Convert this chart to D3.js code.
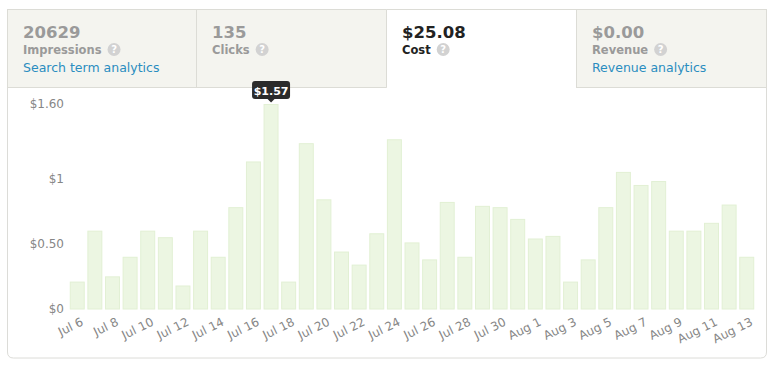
<!DOCTYPE html>
<html><head><meta charset="utf-8">
<script src="https://cdn.jsdelivr.net/npm/d3@7/dist/d3.min.js"></script>
<style>
html,body{margin:0;padding:0;background:#fff;}
svg{display:block;font-family:"DejaVu Sans",Verdana,sans-serif;}
</style></head>
<body><svg id="c" width="780" height="367"></svg>
<script>
const days = ["Jul 6","Jul 7","Jul 8","Jul 9","Jul 10","Jul 11","Jul 12","Jul 13","Jul 14","Jul 15","Jul 16","Jul 17","Jul 18","Jul 19","Jul 20","Jul 21","Jul 22","Jul 23","Jul 24","Jul 25","Jul 26","Jul 27","Jul 28","Jul 29","Jul 30","Jul 31","Aug 1","Aug 2","Aug 3","Aug 4","Aug 5","Aug 6","Aug 7","Aug 8","Aug 9","Aug 10","Aug 11","Aug 12","Aug 13"];
const cost = [0.21,0.60,0.25,0.40,0.60,0.55,0.18,0.60,0.40,0.78,1.13,1.57,0.21,1.27,0.84,0.44,0.34,0.58,1.30,0.51,0.38,0.82,0.40,0.79,0.78,0.69,0.54,0.56,0.21,0.38,0.78,1.05,0.95,0.98,0.60,0.60,0.66,0.80,0.40];
const xTickLabels = ["Jul 6","Jul 8","Jul 10","Jul 12","Jul 14","Jul 16","Jul 18","Jul 20","Jul 22","Jul 24","Jul 26","Jul 28","Jul 30","Aug 1","Aug 3","Aug 5","Aug 7","Aug 9","Aug 11","Aug 13"];
const yTickValues = [0, 0.5, 1, 1.57];
const yTickLabels = ["$0","$0.50","$1","$1.60"];
const tabValues = ["20629","135","$25.08","$0.00"];
const tabNames = ["Impressions","Clicks","Cost","Revenue"];
const tabLinks = ["Search term analytics","","","Revenue analytics"];
const activeTab = 2;
const tooltipIndex = 11;
const tooltipText = "$1.57";

const FONT='"DejaVu Sans",Verdana,sans-serif';
const svg = d3.select("#c");
const L=7.5, R=766.5, T=9.5, B=358, TB=87.5, rad=6;
const tabEdges=[7.5,196.5,386.5,576.5,766.5];

svg.append("path")
  .attr("d",`M${L},${T}V${B-rad}Q${L},${B} ${L+rad},${B}H${R-rad}Q${R},${B} ${R},${B-rad}V${T}`)
  .attr("fill","#fff").attr("stroke","#dcdcd8").attr("stroke-width",1);

tabValues.forEach((v,i)=>{
  const x0=tabEdges[i], x1=tabEdges[i+1];
  const g=svg.append("g");
  const active=i===activeTab;
  if(!active){
    g.append("rect").attr("x",x0).attr("y",T).attr("width",x1-x0).attr("height",TB-T)
      .attr("fill","#f4f4ef").attr("stroke","#dcdcd6");
  } else {
    g.append("path").attr("d",`M${x0},${TB}V${T}H${x1}V${TB}`).attr("fill","#fff").attr("stroke","#dcdcd6");
  }
  const tx=x0+15.5;
  const col=active?"#222":"#9a9a9a";
  g.append("text").attr("x",tx).attr("y",38).attr("font-size",16.5).attr("font-weight","bold").attr("fill",col).text(v);
  const nm=g.append("text").attr("x",tx).attr("y",54).attr("font-size",11.5).attr("font-weight","bold").attr("fill",col).text(tabNames[i]);
  const w=nm.node().getComputedTextLength();
  const cx=tx+w+12.5, cy=49.5;
  g.append("circle").attr("cx",cx).attr("cy",cy).attr("r",6.5).attr("fill","#d2d2d2");
  g.append("text").attr("x",cx).attr("y",cy+3.5).attr("text-anchor","middle").attr("font-size",10).attr("font-weight","bold").attr("fill","#fff").text("?");
  if(tabLinks[i]) g.append("text").attr("x",tx).attr("y",72).attr("font-size",12.5).attr("fill","#2a8dc0").text(tabLinks[i]);
});

const x=d3.scaleBand().domain(days).range([68,756]).paddingInner(0.15).paddingOuter(0.1);
const y=d3.scaleLinear().domain([0,1.57]).range([309,104]);

const yAxis=d3.axisLeft(y).tickValues(yTickValues).tickSize(0).tickPadding(0)
  .tickFormat((d,i)=>yTickLabels[i]);
const ya=svg.append("g").attr("transform","translate(64,0)").call(yAxis);
ya.select(".domain").remove();
ya.selectAll("text").attr("font-size",12).attr("fill","#868686").attr("font-family",FONT);

svg.append("g").selectAll("rect").data(cost).join("rect")
  .attr("x",(d,i)=>x(days[i])+0.5).attr("width",x.bandwidth()-1)
  .attr("y",d=>y(d)+0.5).attr("height",d=>y(0)-y(d)-0.5)
  .attr("fill","#ecf6e2").attr("stroke","#e2f0d4").attr("stroke-width",1);

const xAxis=d3.axisBottom(x).tickValues(xTickLabels).tickSize(0).tickPadding(0);
const xa=svg.append("g").attr("transform","translate(0,317)").call(xAxis);
xa.select(".domain").remove();
xa.selectAll("text").attr("font-size",12).attr("fill","#868686").attr("font-family",FONT)
  .attr("text-anchor","end").attr("dy","0.72em")
  .attr("transform","translate(3,0) rotate(-26)");

const tx=x(days[tooltipIndex])+x.bandwidth()/2;
const ty=y(cost[tooltipIndex]);
const tg=svg.append("g");
tg.append("rect").attr("x",tx-19).attr("y",ty-23).attr("width",38).attr("height",18).attr("rx",3).attr("fill","#2b2b2b");
tg.append("path").attr("d",`M${tx-4},${ty-5.5}L${tx},${ty-1.5}L${tx+4},${ty-5.5}Z`).attr("fill","#2b2b2b");
tg.append("text").attr("x",tx).attr("y",ty-9.5).attr("text-anchor","middle").attr("font-size",11).attr("font-weight","bold").attr("fill","#fff").text(tooltipText);
</script></body></html>
